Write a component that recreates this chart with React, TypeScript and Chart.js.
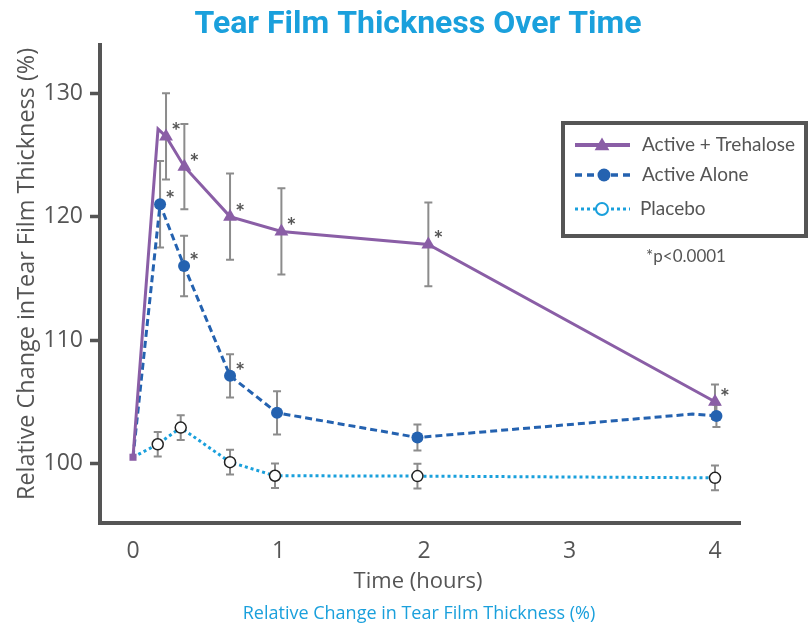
import React, { useEffect, useRef } from 'react';
import { Chart, registerables } from 'chart.js';

Chart.register(...registerables);

// ---- text ----
const titleText = 'Tear Film Thickness Over Time';
const xAxisTitle = 'Time (hours)';
const yAxisTitle = 'Relative Change inTear Film Thickness (%)';
const captionText = 'Relative Change in Tear Film Thickness (%)';
const pValueText = '*p<0.0001';
const seriesNames = ['Active + Trehalose', 'Active Alone', 'Placebo'];

// ---- ticks ----
const xTickValues = [0, 1, 2, 3, 4];
const yTickValues = [100, 110, 120, 130];

// ---- Active + Trehalose ----
const timeTrehalose = [0, 0.172, 0.227, 0.353, 0.667, 1.02, 2.03, 4.0];
const valTrehalose = [100.5, 127.1, 126.5, 124.05, 120.0, 118.8, 117.75, 105.0];
const errTrehalose = [0, 0, 3.5, 3.45, 3.5, 3.5, 3.4, 1.4];
const markedTrehalose = [true, false, true, true, true, true, true, true];
const starTrehalose = [false, false, true, true, true, true, true, true];

// ---- Active Alone ----
const timeActive = [0, 0.186, 0.351, 0.667, 0.99, 1.955, 3.847, 4.01];
const valActive = [100.5, 121.0, 116.0, 107.1, 104.1, 102.1, 104.0, 103.85];
const errActive = [0, 3.5, 2.45, 1.75, 1.75, 1.05, 0, 0.9];
const markedActive = [false, true, true, true, true, true, false, true];
const starActive = [false, true, true, true, false, false, false, false];

// ---- Placebo ----
const timePlacebo = [0, 0.17, 0.328, 0.667, 0.976, 1.955, 4.0];
const valPlacebo = [100.5, 101.55, 102.9, 100.1, 99.0, 98.97, 98.83];
const errPlacebo = [0, 1, 1, 1, 1, 1, 1];
const markedPlacebo = [false, true, true, true, true, true, true];
const starPlacebo = [false, false, false, false, false, false, false];

const PURPLE = '#8a5ea6';
const BLUE = '#2462b0';
const LIGHT = '#1aa0dc';
const GRAY = '#555555';
const ERR = '#8c8c8c';

const errSets = [errTrehalose, errActive, errPlacebo];
const starSets = [starTrehalose, starActive, starPlacebo];

const overlay = {
  id: 'overlay',
  beforeDatasetsDraw(chart: any) {
    const ctx = chart.ctx;
    const xs = chart.scales.x;
    const ys = chart.scales.y;
    ctx.save();
    ctx.strokeStyle = ERR;
    ctx.lineWidth = 2;
    chart.data.datasets.forEach((ds: any, di: number) => {
      ds.data.forEach((p: any, i: number) => {
        const e = errSets[di][i];
        if (!e) return;
        const px = xs.getPixelForValue(p.x);
        const top = ys.getPixelForValue(p.y + e);
        const bot = ys.getPixelForValue(p.y - e);
        ctx.beginPath();
        ctx.moveTo(px, top);
        ctx.lineTo(px, bot);
        ctx.moveTo(px - 4, top);
        ctx.lineTo(px + 4, top);
        ctx.moveTo(px - 4, bot);
        ctx.lineTo(px + 4, bot);
        ctx.stroke();
      });
    });
    ctx.restore();
  },
  afterDatasetsDraw(chart: any) {
    const ctx = chart.ctx;
    const xs = chart.scales.x;
    const ys = chart.scales.y;
    ctx.save();
    ctx.fillStyle = GRAY;
    ctx.font = 'bold 23px Lato';
    ctx.textAlign = 'center';
    ctx.textBaseline = 'alphabetic';
    chart.data.datasets.forEach((ds: any, di: number) => {
      ds.data.forEach((p: any, i: number) => {
        if (!starSets[di][i]) return;
        const px = xs.getPixelForValue(p.x);
        const py = ys.getPixelForValue(p.y);
        ctx.fillText('*', px + 10, py + 3);
      });
    });
    ctx.restore();
  },
  afterDraw(chart: any) {
    const ctx = chart.ctx;
    ctx.save();
    // title
    ctx.fillStyle = LIGHT;
    ctx.font = 'bold 32px Roboto';
    ctx.textAlign = 'center';
    ctx.textBaseline = 'middle';
    ctx.fillText(titleText, 418, 25);
    // x axis title
    ctx.fillStyle = GRAY;
    ctx.font = '22px "Open Sans"';
    ctx.fillText(xAxisTitle, 418, 582);
    // caption
    ctx.fillStyle = LIGHT;
    ctx.font = '18px "Open Sans"';
    ctx.fillText(captionText, 419, 614);
    // y axis title
    ctx.save();
    ctx.translate(27, 274);
    ctx.rotate(-Math.PI / 2);
    ctx.fillStyle = GRAY;
    ctx.font = '23.4px "Open Sans"';
    ctx.fillText(yAxisTitle, 0, 0);
    ctx.restore();

    // legend box
    ctx.strokeStyle = GRAY;
    ctx.lineWidth = 4;
    ctx.strokeRect(563, 123, 243, 113);
    const rows = [145, 175, 209];
    // trehalose
    ctx.setLineDash([]);
    ctx.strokeStyle = PURPLE;
    ctx.lineWidth = 4;
    ctx.beginPath();
    ctx.moveTo(575, rows[0]);
    ctx.lineTo(630, rows[0]);
    ctx.stroke();
    ctx.fillStyle = PURPLE;
    const r = 8.5;
    ctx.beginPath();
    for (let k = 0; k < 3; k++) {
      const a = k * (2 * Math.PI / 3);
      const vx = 602 + Math.sin(a) * r;
      const vy = rows[0] - Math.cos(a) * r + 1;
      if (k === 0) ctx.moveTo(vx, vy); else ctx.lineTo(vx, vy);
    }
    ctx.closePath();
    ctx.fill();
    // active alone
    ctx.strokeStyle = BLUE;
    ctx.lineWidth = 3.5;
    ctx.setLineDash([7, 5]);
    ctx.beginPath();
    ctx.moveTo(575, rows[1]);
    ctx.lineTo(632, rows[1]);
    ctx.stroke();
    ctx.setLineDash([]);
    ctx.fillStyle = BLUE;
    ctx.beginPath();
    ctx.arc(604, rows[1], 6.5, 0, Math.PI * 2);
    ctx.fill();
    // placebo
    ctx.strokeStyle = LIGHT;
    ctx.lineWidth = 3;
    ctx.setLineDash([3, 3]);
    ctx.beginPath();
    ctx.moveTo(575, rows[2]);
    ctx.lineTo(630, rows[2]);
    ctx.stroke();
    ctx.setLineDash([]);
    ctx.fillStyle = '#ffffff';
    ctx.lineWidth = 2;
    ctx.beginPath();
    ctx.arc(602, rows[2], 6, 0, Math.PI * 2);
    ctx.fill();
    ctx.stroke();
    // legend text
    ctx.fillStyle = GRAY;
    ctx.font = '19px Lato';
    ctx.textAlign = 'left';
    ctx.textBaseline = 'middle';
    ctx.fillText(seriesNames[0], 642, 145);
    ctx.fillText(seriesNames[1], 642, 175);
    ctx.fillText(seriesNames[2], 640, 209);
    // p-value
    ctx.font = '17px Lato';
    ctx.textAlign = 'center';
    ctx.fillText(pValueText, 686, 257);
    ctx.restore();
  },
};

function toPoints(xs: number[], ys: number[]) {
  return xs.map((x, i) => ({ x, y: ys[i] }));
}

export default function App() {
  const ref = useRef<HTMLCanvasElement | null>(null);
  useEffect(() => {
    if (!ref.current) return;
    const chart = new Chart(ref.current, {
      type: 'scatter',
      data: {
        datasets: [
          {
            label: seriesNames[0],
            data: toPoints(timeTrehalose, valTrehalose),
            showLine: true,
            borderColor: PURPLE,
            backgroundColor: PURPLE,
            borderWidth: 3,
            pointStyle: markedTrehalose.map((m, i) => (i === 0 ? 'rect' : 'triangle')),
            pointRadius: markedTrehalose.map((m, i) => (!m ? 0 : i === 0 ? 5 : 8)),
            pointBorderWidth: 0,
            pointBorderColor: PURPLE,
          },
          {
            label: seriesNames[1],
            data: toPoints(timeActive, valActive),
            showLine: true,
            borderColor: BLUE,
            backgroundColor: BLUE,
            borderWidth: 3,
            borderDash: [7, 4],
            pointStyle: 'circle',
            pointRadius: markedActive.map((m) => (m ? 6 : 0)),
            pointBorderWidth: 0,
          },
          {
            label: seriesNames[2],
            data: toPoints(timePlacebo, valPlacebo),
            showLine: true,
            borderColor: LIGHT,
            backgroundColor: '#ffffff',
            borderWidth: 3,
            borderDash: [3, 3],
            pointStyle: 'circle',
            pointRadius: markedPlacebo.map((m) => (m ? 5.5 : 0)),
            pointBorderWidth: 1.5,
            pointBorderColor: '#222222',
            pointBackgroundColor: '#ffffff',
          },
        ],
      },
      options: {
        responsive: false,
        animation: false,
        devicePixelRatio: 1,
        layout: { padding: { left: 0, right: 68, top: 45, bottom: 0 } },
        plugins: {
          legend: { display: false },
          title: { display: false },
          tooltip: { enabled: false },
        },
        scales: {
          x: {
            type: 'linear',
            min: -0.2268,
            max: 4.172,
            afterFit: (s: any) => { s.height = 101; },
            afterBuildTicks: (s: any) => { s.ticks = xTickValues.map((v) => ({ value: v })); },
            grid: { display: false, drawTicks: false },
            border: { display: true, color: GRAY, width: 4 },
            ticks: {
              color: GRAY,
              font: { family: 'Open Sans', size: 23 },
              padding: 15,
              maxRotation: 0,
              autoSkip: false,
            },
          },
          y: {
            type: 'linear',
            min: 95.17,
            max: 133.91,
            afterFit: (s: any) => { s.width = 100; },
            afterBuildTicks: (s: any) => { s.ticks = yTickValues.map((v) => ({ value: v })); },
            grid: {
              display: true,
              drawOnChartArea: false,
              drawTicks: true,
              tickLength: 10,
              tickWidth: 3.5,
              tickColor: GRAY,
            },
            border: { display: true, color: GRAY, width: 4 },
            ticks: {
              color: GRAY,
              font: { family: 'Open Sans', size: 23 },
              padding: 7,
              autoSkip: false,
            },
          },
        },
      },
      plugins: [overlay],
    } as any);
    const fams = ['22px "Open Sans"', '19px Lato', 'bold 32px Roboto', 'bold 23px Lato'];
    if ((document as any).fonts) {
      Promise.all(fams.map((f) => (document as any).fonts.load(f))).then(() => {
        try { chart.update(); } catch (e) { /* ignore */ }
      });
    }
    return () => chart.destroy();
  }, []);
  return (
    <div style={{ position: 'absolute', left: 0, top: 0, width: 808, height: 624, background: '#fff' }}>
      <canvas ref={ref} width={808} height={624} style={{ display: 'block' }} />
    </div>
  );
}
